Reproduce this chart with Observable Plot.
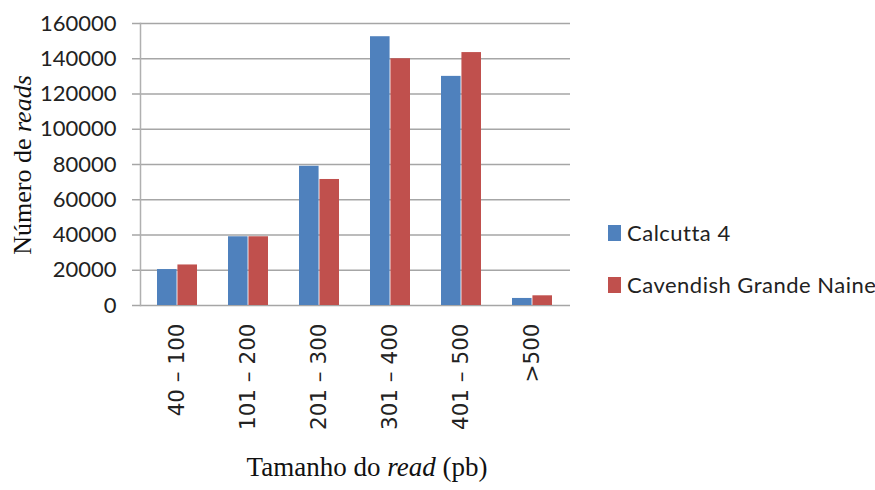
<!DOCTYPE html>
<html>
<head>
<meta charset="utf-8">
<script src="https://cdn.jsdelivr.net/npm/d3@7"></script>
<script src="https://cdn.jsdelivr.net/npm/@observablehq/plot@0.6"></script>
<style>
  body { margin: 0; background: #fff; overflow: hidden; }
  #wrap { position: relative; width: 875px; height: 490px; }
  .leg { position: absolute; left: 608px; white-space: nowrap; font-family: Lato, "Open Sans", sans-serif; font-size: 22px; letter-spacing: 0.5px; color: #222; display: flex; align-items: center; }
  .sw { width: 13px; height: 16px; margin-right: 6px; flex: none; }
  .xax text { font-family: "DejaVu Sans", sans-serif; }
</style>
</head>
<body>
<div id="wrap"></div>
<script>
const categories = ["40 – 100", "101 – 200", "201 – 300", "301 – 400", "401 – 500", ">500"];
const calcutta = [20400, 39000, 79000, 152500, 130000, 4000];
const cavendish = [23000, 39000, 71500, 140000, 143500, 5500];
const seriesNames = ["Calcutta 4", "Cavendish Grande Naine"];
const seriesColors = ["#4F81BD", "#C0504D"];
const yTicks = [0, 20000, 40000, 60000, 80000, 100000, 120000, 140000, 160000];

const rowsA = categories.map((c, i) => ({cat: c, v: calcutta[i]}));
const rowsB = categories.map((c, i) => ({cat: c, v: cavendish[i]}));

const W = 875, H = 490, mL = 140, mR = 305, mT = 23, mB = 185;
const pIn = 0.43, pOut = 0.215;
const bw = (W - mL - mR) / (categories.length) * (1 - pIn);
const half = bw / 2;

const plot = Plot.plot({
  width: W, height: H,
  marginLeft: mL, marginRight: mR, marginTop: mT, marginBottom: mB,
  style: {fontFamily: "Lato, 'Open Sans', sans-serif", color: "#222", background: "#fff"},
  x: {type: "band", domain: categories, paddingInner: pIn, paddingOuter: pOut},
  y: {domain: [0, 160000]},
  marks: [
    Plot.ruleY(yTicks, {stroke: "#a6a6a6", strokeWidth: 1.5}),
    Plot.frame({anchor: "left", stroke: "#b0b0b0", strokeWidth: 1.5}),
    Plot.barY(rowsA, {x: "cat", y: "v", fill: seriesColors[0], insetRight: half}),
    Plot.barY(rowsB, {x: "cat", y: "v", fill: seriesColors[1], insetLeft: half}),
    Plot.axisY({ticks: yTicks, tickSize: 8, tickPadding: 16, tickFormat: d3.format("d"), fontSize: 22, stroke: "#a6a6a6", strokeWidth: 1.5, label: null}),
    Plot.axisX({tickSize: 0, tickRotate: -90, tickPadding: 18, fontSize: 21.5, label: null, className: "xax"})
  ]
});

const svg = d3.select(plot);
const ty = svg.append("text")
  .attr("transform", `translate(31, ${mT + (H - mT - mB) / 2 + 1}) rotate(-90)`)
  .attr("text-anchor", "middle")
  .style("font-family", "'Liberation Serif', 'Times New Roman', serif")
  .style("font-size", "26px").attr("fill", "#111");
ty.append("tspan").text("Número de ");
ty.append("tspan").style("font-style", "italic").text("reads");

const tx = svg.append("text")
  .attr("x", 367).attr("y", 476)
  .attr("text-anchor", "middle")
  .style("font-family", "'Liberation Serif', 'Times New Roman', serif")
  .style("font-size", "27px").attr("fill", "#111");
tx.append("tspan").text("Tamanho do ");
tx.append("tspan").style("font-style", "italic").text("read");
tx.append("tspan").text(" (pb)");

const wrap = document.getElementById("wrap");
wrap.appendChild(plot);
const tops = [219, 271];
seriesNames.forEach((n, i) => {
  const d = document.createElement("div");
  d.className = "leg";
  d.style.top = tops[i] + "px";
  d.innerHTML = `<span class="sw" style="background:${seriesColors[i]}"></span><span>${n}</span>`;
  wrap.appendChild(d);
});
</script>
</body>
</html>
